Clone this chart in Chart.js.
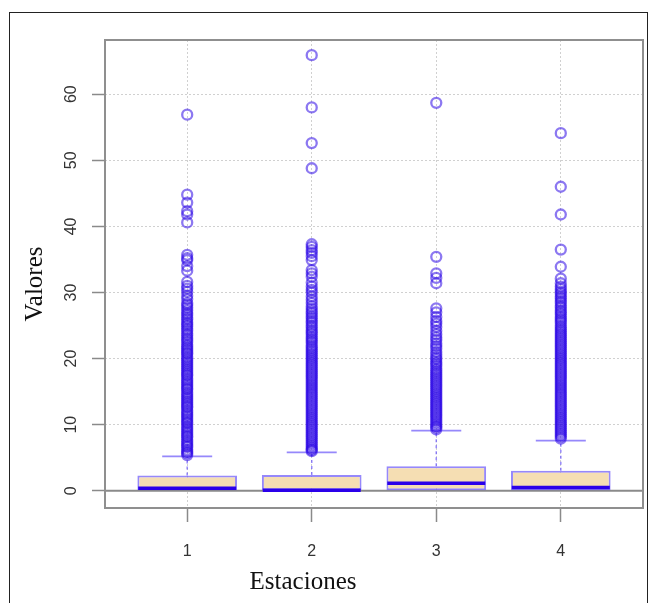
<!DOCTYPE html>
<html>
<head>
<meta charset="utf-8">
<script src="https://cdn.jsdelivr.net/npm/chart.js@4.4.1/dist/chart.umd.min.js"></script>
<style>
  body { margin: 0; background: #fff; }
  #wrap { position: relative; width: 650px; height: 603px; overflow: hidden; }
  #frame { position: absolute; left: 9px; top: 12px; width: 637px; height: 640px; border: 1.5px solid #222; }
  #grafico { position: absolute; left: 0; top: 0; }
</style>
</head>
<body>
<div id="wrap">
  <div id="frame"></div>
  <canvas id="grafico" width="650" height="603"></canvas>
</div>
<script>
// estaciones y resumen de cada caja
var estaciones = [1, 2, 3, 4];
var q1 = [0.1, 0.0, 0.1, 0.0];
var medianas = [0.4, 0.1, 1.15, 0.5];
var q3 = [2.3, 2.4, 3.7, 3.05];
var bigoteSup = [5.2, 5.8, 9.1, 7.6];
var yTicks = [0, 10, 20, 30, 40, 50, 60];

// valores atipicos
var atipicos1 = [56.9, 44.8, 43.6, 42.3, 41.8, 40.6, 35.7, 35.2, 34.9, 34.0, 33.3, 31.6, 31.0, 30.6, 30.1,
  29.5, 29.0, 28.4, 28.1, 27.7, 27.3, 26.9, 26.6, 26.2, 25.9, 25.5, 25.2, 24.9, 24.5, 24.2, 23.8, 23.5,
  23.1, 22.8, 22.5, 22.1, 21.8, 21.5, 21.2, 20.9, 20.7, 20.3, 20.0, 19.7, 19.4, 19.1, 18.8, 18.5, 18.2,
  17.9, 17.6, 17.4, 17.0, 16.7, 16.4, 16.1, 15.8, 15.5, 15.3, 14.9, 14.6, 14.3, 14.0, 13.7, 13.4, 13.1,
  12.8, 12.6, 12.2, 11.9, 11.6, 11.3, 11.0, 10.7, 10.4, 10.2, 9.8, 9.5, 9.2, 8.9, 8.6, 8.3, 8.1, 7.7,
  7.4, 7.1, 6.8, 6.6, 6.2, 5.9, 5.7, 5.4];
var atipicos2 = [65.9, 58.0, 52.6, 48.8, 37.3, 36.9, 36.4, 36.0, 35.5, 34.9, 33.4, 32.9, 32.4, 31.5, 30.9,
  30.4, 30.0, 29.4, 28.9, 28.4, 27.9, 27.5, 27.1, 26.8, 26.4, 26.1, 25.7, 25.4, 25.0, 24.7, 24.3, 24.0,
  23.7, 23.3, 23.0, 22.7, 22.4, 22.0, 21.7, 21.4, 21.1, 20.8, 20.5, 20.2, 19.9, 19.6, 19.3, 19.0, 18.7,
  18.4, 18.1, 17.8, 17.5, 17.2, 16.9, 16.6, 16.3, 16.0, 15.7, 15.4, 15.1, 14.8, 14.5, 14.2, 13.9, 13.6,
  13.3, 13.0, 12.7, 12.4, 12.1, 11.8, 11.5, 11.2, 10.9, 10.6, 10.3, 10.0, 9.7, 9.4, 9.1, 8.8, 8.5, 8.2,
  7.9, 7.6, 7.3, 7.0, 6.7, 6.4, 6.2, 6.0];
var atipicos3 = [58.7, 35.4, 32.9, 32.2, 31.4, 27.6, 27.0, 26.3, 25.7, 25.3, 24.8, 24.2, 23.7, 23.2, 22.8,
  22.3, 21.9, 21.5, 21.0, 20.6, 20.2, 19.9, 19.5, 19.2, 18.9, 18.5, 18.2, 17.9, 17.6, 17.3, 17.0, 16.7,
  16.4, 16.1, 15.8, 15.5, 15.2, 14.9, 14.6, 14.3, 14.0, 13.7, 13.4, 13.1, 12.8, 12.5, 12.2, 11.9, 11.6,
  11.3, 11.0, 10.7, 10.4, 10.1, 9.8, 9.6, 9.3];
var atipicos4 = [54.1, 46.0, 41.8, 36.5, 33.9, 32.1, 31.4, 30.9, 30.5, 30.1, 29.8, 29.4, 29.1, 28.7, 28.4,
  28.0, 27.7, 27.3, 27.0, 26.7, 26.3, 26.0, 25.7, 25.4, 25.0, 24.7, 24.4, 24.1, 23.8, 23.5, 23.2, 22.9,
  22.6, 22.3, 22.0, 21.7, 21.4, 21.1, 20.8, 20.5, 20.2, 19.9, 19.6, 19.3, 19.0, 18.7, 18.4, 18.1, 17.8,
  17.5, 17.2, 16.9, 16.6, 16.3, 16.0, 15.7, 15.4, 15.1, 14.8, 14.5, 14.2, 13.9, 13.6, 13.3, 13.0, 12.7,
  12.4, 12.1, 11.8, 11.5, 11.2, 10.9, 10.6, 10.3, 10.0, 9.7, 9.4, 9.1, 8.8, 8.5, 8.2, 7.9];
var atipicos = [atipicos1, atipicos2, atipicos3, atipicos4];

var morado = 'rgba(105, 85, 250, 0.7)';

var cajas = estaciones.map(function (e, i) { return { x: e, y: [q1[i], q3[i]] }; });
var puntosMediana = estaciones.map(function (e, i) { return { x: e, y: medianas[i] }; });
var puntosBigote = estaciones.map(function (e, i) { return { x: e, y: bigoteSup[i] }; });
var lineasBigote = [];
estaciones.forEach(function (e, i) {
  lineasBigote.push({ x: e, y: q3[i] }, { x: e, y: bigoteSup[i] }, { x: e, y: null });
});
var puntosAtipicos = [];
estaciones.forEach(function (e, i) {
  atipicos[i].forEach(function (v) { puntosAtipicos.push({ x: e, y: v }); });
});

var extras = {
  id: 'extras',
  beforeDatasetsDraw: function (chart) {
    var ctx = chart.ctx, a = chart.chartArea, y0 = chart.scales.y.getPixelForValue(0);
    ctx.save();
    ctx.strokeStyle = '#8a8a8a';
    ctx.lineWidth = 2;
    ctx.beginPath();
    ctx.moveTo(a.left, y0);
    ctx.lineTo(a.right, y0);
    ctx.stroke();
    ctx.restore();
  },
  afterDraw: function (chart) {
    var ctx = chart.ctx, a = chart.chartArea;
    ctx.save();
    ctx.strokeStyle = '#8f8f8f';
    ctx.lineWidth = 2;
    ctx.strokeRect(a.left, a.top, a.right - a.left, a.bottom - a.top);
    ctx.fillStyle = '#111';
    ctx.font = '25px "Liberation Serif", serif';
    ctx.textAlign = 'center';
    ctx.textBaseline = 'middle';
    ctx.fillText('Estaciones', 303, 582);
    ctx.translate(35, 284);
    ctx.rotate(-Math.PI / 2);
    ctx.fillText('Valores', 0, 0);
    ctx.restore();
  }
};

var fuenteTicks = { family: '"Liberation Sans", Arial, sans-serif', size: 16 };

new Chart(document.getElementById('grafico'), {
  type: 'bar',
  data: {
    datasets: [
      {
        type: 'scatter',
        data: puntosAtipicos,
        pointStyle: 'circle',
        pointRadius: 5,
        borderWidth: 2.3,
        borderColor: 'rgba(45, 10, 230, 0.55)',
        backgroundColor: 'rgba(0,0,0,0)',
        order: 1
      },
      {
        type: 'scatter',
        data: puntosBigote,
        pointStyle: 'line',
        pointRadius: 25,
        borderWidth: 1.8,
        borderColor: morado,
        order: 2
      },
      {
        type: 'scatter',
        data: puntosMediana,
        pointStyle: 'line',
        pointRadius: 49,
        borderWidth: 3.5,
        borderColor: '#2a00ea',
        order: 3
      },
      {
        type: 'line',
        data: lineasBigote,
        borderColor: morado,
        borderWidth: 1.5,
        borderDash: [3, 3],
        pointRadius: 0,
        spanGaps: false,
        order: 4
      },
      {
        type: 'bar',
        data: cajas,
        backgroundColor: '#f5deb3',
        borderColor: morado,
        borderWidth: 2,
        borderSkipped: false,
        barPercentage: 0.8,
        categoryPercentage: 1,
        grouped: false,
        order: 5
      }
    ]
  },
  options: {
    responsive: false,
    animation: false,
    layout: { autoPadding: false, padding: { left: 0, top: 40, right: 7, bottom: 0 } },
    plugins: { legend: { display: false }, tooltip: { enabled: false } },
    scales: {
      x: {
        type: 'linear',
        min: 0.34,
        max: 4.66,
        offset: false,
        afterBuildTicks: function (s) { s.ticks = estaciones.map(function (v) { return { value: v }; }); },
        afterFit: function (s) { s.height = 95; },
        ticks: { font: fuenteTicks, color: '#333', padding: 20, maxRotation: 0 },
        grid: { offset: false, color: '#d0d0d0', lineWidth: 1, tickLength: 14, tickColor: '#8a8a8a', tickWidth: 1.5, tickBorderDash: [] },
        border: { display: false, dash: [2, 2] }
      },
      y: {
        type: 'linear',
        min: -2.6,
        max: 68.2,
        afterBuildTicks: function (s) { s.ticks = yTicks.map(function (v) { return { value: v }; }); },
        afterFit: function (s) { s.width = 105; },
        ticks: { font: fuenteTicks, color: '#333', padding: 12, minRotation: 90, maxRotation: 90, crossAlign: 'center' },
        grid: { color: '#d0d0d0', lineWidth: 1, tickLength: 13, tickColor: '#8a8a8a', tickWidth: 1.5, tickBorderDash: [] },
        border: { display: false, dash: [2, 2] }
      }
    }
  },
  plugins: [extras]
});
</script>
</body>
</html>
